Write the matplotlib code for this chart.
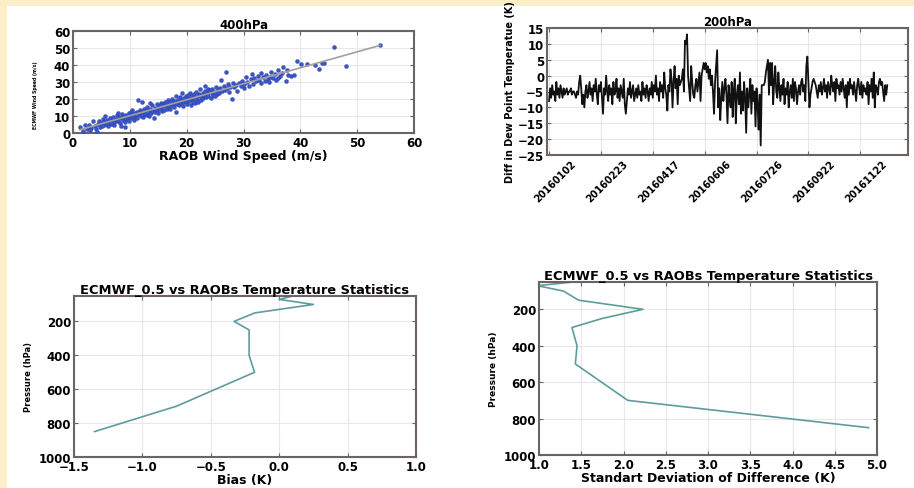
import matplotlib
matplotlib.use("Agg")
import matplotlib.pyplot as plt
import matplotlib.transforms as mtransforms
from matplotlib.patches import Rectangle
import numpy as np

# ---------------- data ----------------
raob_speed = [
    1.2, 1.8, 2.1, 2.5, 2.9, 3.2, 3.5, 3.8, 4.1, 4.4,
    4.6, 4.8, 5.0, 5.2, 5.4, 5.5, 5.7, 5.9, 6.0, 6.2,
    6.4, 6.5, 6.7, 6.9, 7.0, 7.2, 7.3, 7.5, 7.7, 7.8,
    8.0, 8.1, 8.3, 8.5, 8.6, 8.8, 9.0, 9.1, 9.3, 9.4,
    9.6, 9.8, 9.9, 10.1, 10.2, 10.4, 10.6, 10.7, 10.9, 11.0,
    11.2, 11.3, 11.5, 11.6, 11.8, 11.9, 12.1, 12.2, 12.4, 12.5,
    12.7, 12.8, 13.0, 13.1, 13.3, 13.4, 13.6, 13.8, 13.9, 14.1,
    14.2, 14.4, 14.5, 14.7, 14.8, 15.0, 15.1, 15.3, 15.4, 15.6,
    15.7, 15.9, 16.0, 16.2, 16.3, 16.5, 16.6, 16.8, 16.9, 17.1,
    17.2, 17.4, 17.5, 17.7, 17.8, 18.0, 18.1, 18.3, 18.4, 18.6,
    18.7, 18.9, 19.0, 19.2, 19.3, 19.5, 19.6, 19.8, 19.9, 20.1,
    20.2, 20.4, 20.5, 20.7, 20.8, 21.0, 21.1, 21.3, 21.4, 21.6,
    21.7, 21.9, 22.0, 22.2, 22.3, 22.5, 22.6, 22.8, 22.9, 23.1,
    23.2, 23.4, 23.5, 23.7, 23.8, 24.0, 24.2, 24.4, 24.5, 24.7,
    24.9, 25.1, 25.3, 25.5, 25.7, 25.9, 26.1, 26.3, 26.5, 26.7,
    26.9, 27.1, 27.3, 27.5, 27.7, 27.9, 28.1, 28.3, 28.6, 28.9,
    29.2, 29.5, 29.8, 30.1, 30.4, 30.7, 31.0, 31.3, 31.6, 31.9,
    32.2, 32.5, 32.8, 33.1, 33.4, 33.7, 34.0, 34.3, 34.6, 34.9,
    35.2, 35.5, 35.8, 36.1, 36.4, 36.7, 37.0, 37.4, 37.8, 38.3,
    38.8, 39.4, 40.1, 41.2, 42.6, 43.3, 43.8, 44.2, 46.0, 48.0,
    5.1, 6.6, 7.9, 9.2, 10.3, 11.4, 12.6, 13.5, 14.6, 15.5,
    16.4, 17.3, 18.2, 19.1, 20.3, 21.2, 22.1, 23.3, 24.1, 25.0,
    30.0, 31.5, 33.0, 34.5, 36.0, 37.6, 3.0, 4.3, 8.4, 54.0,
]
ecmwf_speed = [
    3.5, 1.0, 4.6, 2.2, 5.0, 3.1, 6.8, 4.0, 2.6, 5.5,
    7.2, 3.8, 5.9, 8.4, 4.6, 6.3, 10.2, 5.1, 7.5, 3.9,
    6.0, 8.8, 5.2, 7.1, 9.6, 6.4, 4.8, 8.1, 6.9, 10.5,
    7.6, 9.3, 5.9, 8.7, 11.2, 7.4, 9.8, 3.8, 8.2, 10.6,
    9.1, 7.3, 11.6, 9.7, 12.4, 8.6, 10.5, 7.9, 11.8, 9.4,
    12.6, 8.8, 19.2, 11.0, 13.4, 10.2, 18.0, 12.1, 9.6, 14.2,
    11.4, 13.3, 10.8, 15.1, 12.5, 9.9, 14.0, 11.7, 16.2, 13.1,
    8.6, 15.0, 12.4, 16.9, 13.8, 11.5, 15.7, 14.1, 17.6, 12.9,
    15.2, 16.8, 13.6, 18.3, 15.9, 14.4, 17.2, 19.4, 16.1, 14.0,
    18.1, 16.5, 20.2, 17.3, 15.1, 18.8, 12.2, 17.0, 19.7, 16.4,
    18.5, 21.1, 17.4, 19.2, 16.0, 20.6, 18.3, 22.0, 19.0, 17.1,
    20.4, 18.7, 23.3, 19.8, 16.6, 21.5, 19.3, 22.7, 17.9, 20.9,
    24.4, 20.0, 18.4, 22.1, 25.9, 21.2, 19.6, 23.6, 20.5, 22.4,
    24.8, 21.3, 23.0, 26.1, 22.0, 24.3, 20.8, 23.5, 25.6, 22.6,
    24.0, 27.2, 22.9, 25.1, 23.8, 26.6, 31.0, 24.7, 27.8, 25.5,
    36.0, 26.2, 28.9, 24.4, 27.0, 20.1, 29.3, 26.8, 28.1, 25.0,
    29.6, 27.4, 30.8, 28.7, 33.1, 29.9, 27.8, 31.7, 29.0, 32.6,
    30.4, 33.5, 31.2, 29.4, 32.9, 30.7, 34.1, 31.8, 33.0, 35.6,
    32.4, 34.8, 31.0, 36.9, 33.7, 35.2, 38.9, 30.6, 34.3, 33.6,
    34.0, 42.5, 40.4, 40.6, 40.1, 37.6, 40.9, 41.0, 50.5, 39.2,
    4.3, 5.8, 11.9, 6.6, 13.8, 11.9, 11.1, 17.5, 14.4, 16.3,
    17.7, 19.1, 21.9, 23.6, 22.3, 18.1, 23.2, 27.5, 25.1, 21.8,
    26.5, 34.6, 35.4, 30.1, 32.1, 37.3, 1.6, 0.8, 4.2, 51.5,
]

dewpoint_diff = [
    -8, -4, -7, -3, -6, -5, -8, -2, -6, -4, -7, -3, -5, -7, -4, -6, -5, -4, -6, -5,
    -5, -4, -6, -5, -5, -6, -7, -5, -6, -2, 0, -4, -9, -6, -10, -5, -3, -7, -5, -2,
    -6, -4, -8, -3, -5, -1, -6, -9, -3, -5, -2, -7, -12, -4, -6, 0, -5, -8, -3, -6,
    -4, -9, -2, -6, -5, -1, -7, -4, -8, -3, -5, -7, -1, -9, -12, -8, -4, -6, -2, -7,
    -5, -3, -8, -6, -4, -7, -3, -6, -5, -8, -2, -6, -4, -7, -3, -5, -8, -4, -6, -2,
    -7, -3, -5, 0, -6, -4, -8, -2, -5, -3, -7, 1, -4, -6, -11, -3, -5, 2, -1, -10,
    -2, 3, -4, -1, -9, 0, -3, -2, -1, 2, -5, 11, 10, 13, 0, -4, -8, 3, -2, -6,
    -7, -3, -1, -5, -2, 1, -8, 0, 2, 4, 2, 4, 1, 3, -1, 2, -3, 0, -5, -12,
    -2, 3, 8, -10, -4, -14, -7, -2, -8, -4, -1, -6, -15, -3, -7, -10, -2, -13, -5, -1,
    -15, -6, -3, -9, 1, -12, -5, -11, -2, -7, -18, -4, -10, -6, -1, -12, -3, -8, -5, -16,
    -4, -9, -17, -6, -22, -3, -3, -3, -2, 1, 3, 5, -6, 4, -3, 4, -9, -2, 3, -5,
    -7, 1, -4, -8, -3, -6, -1, -9, -4, -6, -2, -10, -5, -3, -7, -1, -8, -2, -4, -9,
    -5, -3, -6, -2, -1, -5, -3, -8, 3, 6, -2, -10, -6, -4, -2, -1, -2, -3, -5, -7,
    -3, -5, -2, -6, -4, -1, -5, -3, -7, -2, -4, -6, 0, -3, -5, -2, -8, -1, -4, -3,
    -6, -2, -5, -1, -4, -7, -3, -10, -2, -6, -1, -4, -3, -6, -2, -5, -8, -3, -1, -4,
    -6, -2, -7, -3, -5, -4, -6, -2, -9, -3, -5, -1, -7, 1, -10, -3, -4, -6, -2, -1,
    -3, -2, -5, -8, -3, -6, -3,
]
date_ticks = [0, 50, 100, 150, 200, 250, 300]
date_labels = ['20160102', '20160223', '20160417', '20160606',
               '20160726', '20160922', '20161122']

pressure_levels = [50, 70, 100, 150, 200, 250, 300, 400, 500, 700, 850]
temp_bias = [0.10, 0.0, 0.25, -0.18, -0.33, -0.22, -0.22, -0.22, -0.18, -0.75, -1.35]
temp_std = [1.41, 0.98, 1.29, 1.47, 2.23, 1.75, 1.39, 1.45, 1.43, 2.05, 4.90]

# ---------------- style ----------------
plt.rcParams['font.family'] = ['DejaVu Sans']
plt.rcParams['font.weight'] = 'bold'
plt.rcParams['axes.labelweight'] = 'bold'
plt.rcParams['axes.titleweight'] = 'bold'

FRAME = '#6b6463'
GRID = '#e8e8e8'
TEAL = '#5e9c9c'
TICK_FS = 8.5

fig = plt.figure(figsize=(9.14, 4.89), dpi=100)
fig.patch.set_facecolor('white')
cream = '#fcefc8'
fig.add_artist(Rectangle((0, 1 - 7 / 489), 1, 7 / 489, transform=fig.transFigure,
                         facecolor=cream, edgecolor='none', zorder=0))
fig.add_artist(Rectangle((0, 0), 7 / 914, 1, transform=fig.transFigure,
                         facecolor=cream, edgecolor='none', zorder=0))


def style(ax, fs=TICK_FS):
    for s in ax.spines.values():
        s.set_color(FRAME)
        s.set_linewidth(1.5)
    ax.tick_params(direction='in', length=3, width=0.8, color=FRAME,
                   labelsize=fs, pad=2, top=True, right=True)
    ax.grid(True, color=GRID, linewidth=0.8)
    ax.set_axisbelow(True)
    for lab in ax.get_xticklabels() + ax.get_yticklabels():
        lab.set_fontweight('bold')


# Top-left: scatter
ax1 = fig.add_axes([73 / 914, 1 - 134 / 489, 341 / 914, 102 / 489])
x = np.array(raob_speed)
y = np.array(ecmwf_speed)
ax1.scatter(x, y, s=8, color='#3a55c6', edgecolors='#2a40b0', linewidths=0.3, zorder=3)
coef = np.polyfit(x, y, 1)
xl = np.array([x.min(), x.max()])
ax1.plot(xl, np.polyval(coef, xl), color='#a3a09c', lw=1.2, zorder=4)
ax1.set_xlim(0, 60)
ax1.set_ylim(0, 60)
ax1.set_xticks(range(0, 61, 10))
ax1.set_yticks(range(0, 61, 10))
ax1.set_title('400hPa', fontsize=8.5, fontweight='bold', pad=2)
ax1.set_xlabel('RAOB Wind Speed (m/s)', fontsize=9, fontweight='bold', labelpad=0)
ax1.set_ylabel('ECMWF Wind Speed (m/s)', fontsize=3.3, fontweight='bold')
ax1.yaxis.set_label_coords(-0.102, 0.38)
style(ax1)

# Top-right: time series
ax2 = fig.add_axes([547 / 914, 1 - 156 / 489, 361 / 914, 127 / 489])
ax2.plot(np.arange(len(dewpoint_diff)), dewpoint_diff, color='#111111', lw=1.3)
ax2.set_xlim(-2, 346)
ax2.set_ylim(-25, 15)
ax2.set_yticks(range(-25, 16, 5))
ax2.set_xticks(date_ticks)
ax2.set_xticklabels(date_labels, rotation=45)
ax2.set_title('200hPa', fontsize=8.5, fontweight='bold', pad=2)
ax2.set_ylabel('Diff in Dew Point Temperatue (K)', fontsize=7, fontweight='bold', labelpad=2)
style(ax2)
shift = mtransforms.ScaledTranslation(6 / 100, 0, fig.dpi_scale_trans)
for lab in ax2.get_xticklabels():
    lab.set_fontsize(7)
    lab.set_transform(lab.get_transform() + shift)

# Bottom-left: bias profile
ax3 = fig.add_axes([74 / 914, 1 - 458 / 489, 342 / 914, 161 / 489])
ax3.plot(temp_bias, pressure_levels, color=TEAL, lw=1.2)
ax3.set_xlim(-1.5, 1.0)
ax3.set_ylim(1000, 50)
ax3.set_yticks([200, 400, 600, 800, 1000])
ax3.set_xticks(np.arange(-1.5, 1.01, 0.5))
ax3.set_title('ECMWF_0.5 vs RAOBs Temperature Statistics', fontsize=9.4, fontweight='bold', pad=2)
ax3.set_xlabel('Bias (K)', fontsize=9, fontweight='bold', labelpad=0)
ax3.set_ylabel('Pressure (hPa)', fontsize=6, fontweight='bold', labelpad=4)
style(ax3)

# Bottom-right: std profile
ax4 = fig.add_axes([539 / 914, 1 - 456 / 489, 338 / 914, 173 / 489])
ax4.plot(temp_std, pressure_levels, color=TEAL, lw=1.2)
ax4.set_xlim(1.0, 5.0)
ax4.set_ylim(1000, 50)
ax4.set_yticks([200, 400, 600, 800, 1000])
ax4.set_xticks(np.arange(1.0, 5.01, 0.5))
ax4.set_title('ECMWF_0.5 vs RAOBs Temperature Statistics', fontsize=9.4, fontweight='bold', pad=2)
ax4.set_xlabel('Standart Deviation of Difference (K)', fontsize=9, fontweight='bold', labelpad=0)
ax4.set_ylabel('Pressure (hPa)', fontsize=6.5, fontweight='bold', labelpad=4)
style(ax4)

fig.savefig('out.png', dpi=100)
